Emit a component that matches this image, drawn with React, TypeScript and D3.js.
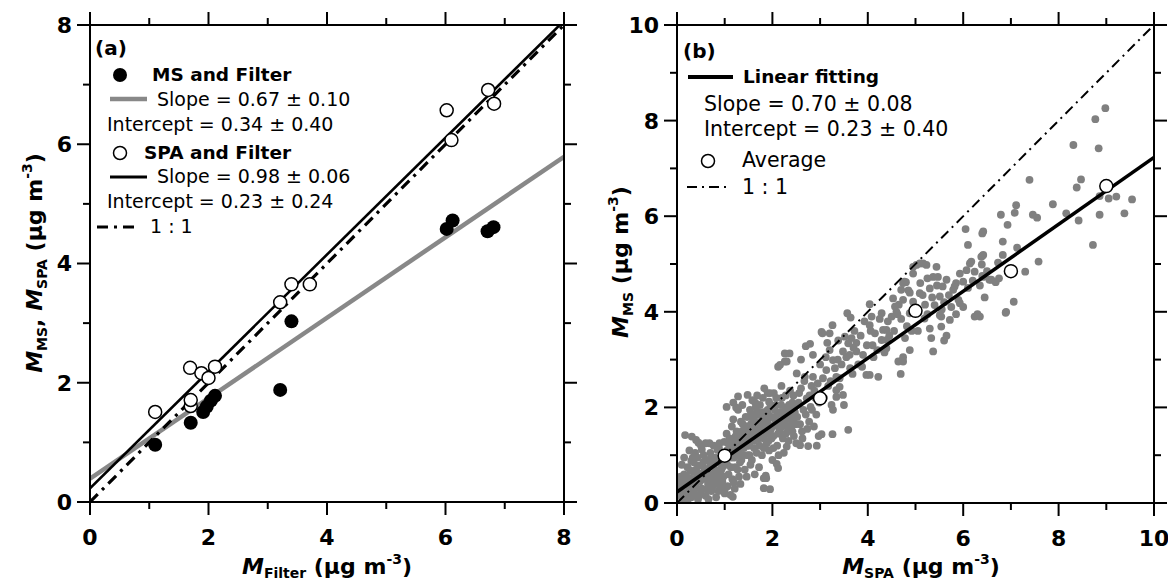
import React from 'react';
import * as d3 from 'd3';

// ---------- Panel (a) data ----------
const msFilter: [number, number][] = [
  [1.10, 0.96], [1.70, 1.33], [1.91, 1.51], [1.97, 1.60], [2.04, 1.70], [2.11, 1.78],
  [3.21, 1.88], [3.40, 3.03], [6.02, 4.58], [6.12, 4.72], [6.71, 4.54], [6.81, 4.61],
];
const spaFilter: [number, number][] = [
  [1.10, 1.51], [1.69, 2.25], [1.70, 1.61], [1.70, 1.71], [1.88, 2.16], [2.00, 2.08],
  [2.11, 2.27], [3.21, 3.35], [3.40, 3.65], [3.71, 3.65], [6.02, 6.57], [6.10, 6.07],
  [6.72, 6.91], [6.82, 6.68],
];
const fitMS = { slope: 0.675, intercept: 0.39 };
const fitSPA = { slope: 0.98, intercept: 0.23 };
const legendA = [
  'MS and Filter', 'Slope = 0.67 \u00b1 0.10', 'Intercept = 0.34 \u00b1 0.40',
  'SPA and Filter', 'Slope = 0.98 \u00b1 0.06', 'Intercept = 0.23 \u00b1 0.24', '1 : 1',
];

// ---------- Panel (b) data ----------
const averages: [number, number][] = [[1, 0.99], [3, 2.19], [5, 4.02], [7, 4.85], [9, 6.63]];
const fitB = { slope: 0.70, intercept: 0.23 };
const legendB = ['Linear fitting', 'Slope = 0.70 \u00b1 0.08', 'Intercept = 0.23 \u00b1 0.40', 'Average', '1 : 1'];
const scatter: [number, number][] = [
  // x 0 - 0.5
  [0.05, 0.15], [0.08, 0.32], [0.10, 0.45], [0.12, 0.22], [0.15, 0.60], [0.18, 0.10], [0.20, 0.38], [0.22, 0.75],
  [0.25, 0.28], [0.27, 0.52], [0.30, 0.12], [0.30, 0.88], [0.32, 0.42], [0.35, 0.65], [0.36, 0.20], [0.40, 0.33],
  [0.42, 0.55], [0.44, 0.08], [0.45, 0.78], [0.48, 0.45], [0.50, 0.25], [0.50, 0.62], [0.07, 0.55], [0.13, 0.05],
  [0.17, 0.48], [0.24, 0.15], [0.28, 0.68], [0.33, 0.95], [0.38, 0.50], [0.46, 0.15], [0.17, 1.42], [0.31, 1.39],
  [0.45, 1.26], [0.26, 1.10], [0.10, 0.80], [0.38, 1.05], [0.15, 0.95], [0.40, 1.32], [0.50, 1.21], [0.30, 0.30],
  [0.20, 0.55], [0.40, 0.70], [0.50, 0.50], [0.03, 0.40], [0.22, 0.05], [0.35, 0.85], [0.43, 0.95], [0.26, 0.40],
  // x 0.5 - 1.0
  [0.52, 0.30], [0.55, 0.50], [0.58, 0.72], [0.60, 0.15], [0.62, 0.90], [0.65, 0.40], [0.68, 0.60], [0.70, 1.05],
  [0.72, 0.25], [0.75, 0.80], [0.78, 0.48], [0.80, 0.95], [0.82, 0.12], [0.85, 0.65], [0.88, 1.15], [0.90, 0.35],
  [0.92, 0.82], [0.95, 1.00], [0.97, 0.55], [1.00, 0.20], [0.56, 1.00], [0.63, 0.28], [0.73, 0.58], [0.83, 0.40],
  [0.93, 0.70], [0.68, 1.25], [0.89, 1.25], [0.85, 1.11], [0.60, 0.55], [0.77, 1.20], [0.99, 1.28], [0.66, 0.08],
  [0.87, 0.25], [0.95, 0.45], [0.52, 1.12], [0.60, 1.25], [0.80, 0.70], [0.90, 0.90], [0.70, 0.80], [0.60, 0.70],
  [0.75, 0.35], [0.85, 0.50], [0.95, 0.75], [0.55, 0.85], [0.65, 0.50], [0.72, 0.95], [0.82, 0.85], [0.78, 0.62],
  [0.92, 0.60], [0.98, 0.90], [0.68, 0.40],
  // x 1.0 - 1.5
  [1.02, 0.85], [1.05, 1.10], [1.08, 0.60], [1.10, 1.35], [1.12, 0.17], [1.14, 0.95], [1.17, 0.13], [1.19, 0.43],
  [1.20, 1.20], [1.22, 0.75], [1.25, 1.50], [1.27, 1.00], [1.30, 0.55], [1.32, 1.30], [1.35, 0.90], [1.38, 1.65],
  [1.40, 1.15], [1.42, 0.70], [1.45, 1.40], [1.48, 1.00], [1.50, 1.80], [1.04, 1.45], [1.15, 1.60], [1.28, 1.95],
  [1.37, 2.05], [1.24, 2.00], [1.33, 0.40], [1.46, 0.55], [1.06, 0.35], [1.21, 0.30], [1.10, 0.97], [1.18, 1.75],
  [1.30, 1.10], [1.43, 1.25], [1.36, 1.50], [1.49, 1.55], [1.01, 0.31], [1.16, 0.50], [1.04, 2.01], [1.28, 2.23],
  [1.48, 2.26], [1.00, 1.00], [1.05, 0.80], [1.10, 1.15], [1.15, 1.25], [1.20, 0.95], [1.25, 1.30], [1.30, 1.40],
  [1.35, 1.20], [1.40, 1.50], [1.45, 1.60], [1.12, 1.05], [1.22, 1.15], [1.32, 0.85], [1.42, 1.35], [1.18, 2.10],
  [1.07, 1.25], [1.23, 1.40], [1.34, 1.70], [1.44, 1.80], [1.27, 0.70], [1.39, 1.00], [1.47, 1.20], [1.13, 0.75],
  // x 1.5 - 2.0
  [1.52, 1.20], [1.55, 1.50], [1.57, 0.90], [1.60, 1.75], [1.62, 1.30], [1.65, 2.00], [1.67, 1.05], [1.70, 1.60],
  [1.72, 0.75], [1.75, 1.85], [1.77, 1.40], [1.80, 2.20], [1.82, 1.15], [1.85, 1.70], [1.87, 0.52], [1.90, 1.95],
  [1.92, 1.30], [1.95, 2.30], [1.97, 1.55], [2.00, 0.90], [1.53, 1.95], [1.58, 2.15], [1.63, 0.60], [1.68, 2.25],
  [1.73, 1.20], [1.78, 1.00], [1.83, 2.40], [1.88, 1.45], [1.93, 1.10], [1.98, 1.80], [1.82, 0.31], [1.95, 0.29],
  [1.86, 0.57], [1.54, 0.80], [1.61, 1.55], [1.66, 1.85], [1.71, 1.35], [1.76, 1.65], [1.81, 1.90], [1.91, 1.65],
  [1.96, 2.05], [1.93, 2.12], [1.90, 2.30], [1.50, 1.35], [1.55, 1.65], [1.60, 1.45], [1.65, 1.70], [1.70, 1.90],
  [1.75, 1.50], [1.80, 1.60], [1.85, 1.85], [1.90, 1.75], [1.95, 1.45], [1.52, 1.00], [1.62, 1.15], [1.72, 1.50],
  [1.82, 1.35], [1.92, 1.85], [1.82, 0.52], [1.58, 1.85], [1.68, 1.45], [1.78, 1.80], [1.88, 1.25], [1.98, 1.35],
  [1.64, 2.10], [1.74, 2.05],
  // x 2.0 - 2.5
  [2.02, 1.40], [2.05, 1.75], [2.07, 2.05], [2.10, 1.20], [2.12, 0.73], [2.15, 1.55], [2.17, 1.90], [2.20, 2.20],
  [2.22, 1.35], [2.25, 1.70], [2.27, 2.00], [2.30, 1.18], [2.32, 1.50], [2.35, 1.85], [2.37, 2.35], [2.40, 1.60],
  [2.42, 2.10], [2.45, 1.40], [2.47, 1.90], [2.50, 1.25], [2.03, 2.30], [2.09, 0.82], [2.13, 1.00], [2.19, 2.45],
  [2.24, 1.05], [2.28, 2.25], [2.34, 1.30], [2.39, 1.95], [2.44, 2.25], [2.49, 1.65], [2.26, 2.96], [2.16, 2.89],
  [2.30, 2.96], [2.26, 3.13], [2.36, 3.13], [2.12, 2.85], [2.06, 1.62], [2.18, 1.45], [2.38, 1.75], [2.46, 2.00],
  [2.00, 1.60], [2.05, 1.95], [2.10, 1.85], [2.15, 1.70], [2.20, 1.60], [2.25, 1.90], [2.30, 1.75], [2.35, 2.05],
  [2.40, 1.85], [2.45, 1.75], [2.50, 2.05], [2.02, 1.15], [2.12, 1.45], [2.22, 1.85], [2.32, 1.60], [2.08, 2.20],
  [2.18, 2.05], [2.28, 1.45], [2.42, 1.50],
  // x 2.5 - 3.0
  [2.51, 2.71], [2.52, 1.80], [2.55, 2.10], [2.58, 1.21], [2.60, 2.40], [2.62, 1.50], [2.65, 1.95], [2.68, 2.64],
  [2.70, 3.28], [2.72, 2.19], [2.75, 1.19], [2.77, 1.70], [2.79, 3.33], [2.80, 2.01], [2.82, 2.45], [2.85, 2.64],
  [2.87, 1.60], [2.90, 2.20], [2.92, 1.85], [2.95, 2.50], [2.97, 1.40], [3.00, 2.90], [2.56, 2.30], [2.63, 1.35],
  [2.67, 2.55], [2.73, 1.55], [2.83, 1.95], [2.88, 2.35], [2.93, 1.20], [2.98, 2.10], [2.60, 3.00], [2.85, 3.10],
  [2.58, 1.65], [2.70, 1.85], [2.78, 2.25],
  // x 3.0 - 3.5
  [3.03, 1.44], [3.05, 3.55], [3.03, 3.58], [3.06, 2.61], [3.08, 2.20], [3.12, 3.05], [3.13, 2.78], [3.17, 2.45],
  [3.20, 3.20], [3.20, 3.55], [3.24, 2.05], [3.26, 1.44], [3.26, 3.72], [3.27, 2.99], [3.27, 1.95], [3.31, 2.82],
  [3.34, 2.36], [3.34, 2.64], [3.34, 2.22], [3.38, 3.40], [3.41, 2.61], [3.41, 2.43], [3.45, 2.90], [3.48, 3.17],
  [3.48, 2.26], [3.50, 2.05], [3.15, 3.35], [3.22, 2.55], [3.37, 3.00],
  // x 3.5 - 4.0
  [3.52, 3.48], [3.57, 3.97], [3.59, 1.53], [3.59, 3.34], [3.62, 3.10], [3.63, 2.82], [3.64, 3.88], [3.68, 2.70],
  [3.72, 3.60], [3.76, 3.35], [3.76, 3.17], [3.80, 2.90], [3.85, 3.50], [3.90, 3.10], [3.93, 3.80], [3.97, 2.68],
  [3.98, 3.30], [3.55, 3.05], [3.70, 3.25], [3.88, 2.85], [3.66, 3.45],
  // x 4.0 - 4.5
  [4.04, 4.16], [4.04, 3.72], [4.04, 2.68], [4.08, 3.90], [4.06, 3.60], [4.10, 3.30], [4.15, 3.55], [4.22, 2.64],
  [4.25, 3.85], [4.29, 3.97], [4.29, 3.41], [4.32, 3.62], [4.35, 3.15], [4.39, 3.62], [4.40, 3.41], [4.39, 3.24],
  [4.42, 3.80], [4.45, 3.50], [4.50, 3.90], [4.20, 3.20], [4.12, 3.05],
  // x 4.5 - 5.0
  [4.53, 4.28], [4.57, 4.11], [4.60, 4.00], [4.62, 3.95], [4.64, 2.96], [4.69, 2.70], [4.74, 2.96], [4.74, 4.25],
  [4.74, 4.60], [4.74, 3.05], [4.80, 4.62], [4.82, 3.70], [4.85, 4.45], [4.88, 3.20], [4.88, 3.97], [4.88, 4.40],
  [4.95, 4.21], [4.95, 4.80], [4.95, 4.94], [4.55, 3.60], [4.70, 3.85], [4.78, 3.45], [4.92, 3.60], [4.65, 4.15],
  [4.98, 4.05], [4.70, 4.46], [4.77, 4.63],
  // x 5.0 - 6.0
  [5.02, 4.98], [5.09, 5.01], [5.09, 4.39], [5.16, 5.01], [5.23, 4.98], [5.19, 3.86], [5.30, 4.49], [5.30, 3.65],
  [5.33, 3.45], [5.37, 3.17], [5.40, 4.14], [5.44, 4.94], [5.47, 4.73], [5.51, 4.32], [5.51, 3.93], [5.54, 3.69],
  [5.60, 3.40], [5.65, 4.67], [5.72, 3.83], [5.79, 4.46], [5.85, 4.60], [5.93, 4.80], [5.10, 4.60], [5.25, 4.70],
  [5.35, 4.30], [5.45, 4.55], [5.60, 4.20], [5.70, 4.35], [5.20, 4.15], [5.55, 4.05], [5.75, 4.10], [5.90, 4.25],
  [5.05, 3.60], [5.65, 3.50], [5.85, 3.95], [5.25, 3.95], [5.15, 4.35], [5.54, 3.90], [5.93, 4.18], [5.37, 4.73],
  [5.57, 4.53], [5.82, 4.53], [6.00, 4.63],
  // x 6.0 - 7.0
  [6.07, 4.87], [6.24, 4.84], [6.24, 3.90], [6.30, 3.95], [6.10, 4.50], [6.20, 4.65], [6.35, 4.55], [6.45, 4.30],
  [6.00, 4.10], [6.40, 4.75], [6.59, 4.67], [6.68, 4.62], [6.75, 4.70], [6.50, 4.85], [6.90, 4.00], [6.14, 5.01],
  [6.38, 5.15], [6.42, 4.73], [6.55, 4.67], [6.35, 3.90], [6.17, 5.05], [6.42, 5.68], [6.83, 5.47], [6.42, 5.19],
  [6.83, 5.19],
  // x > 6 upper / sparse
  [8.98, 8.26], [8.77, 8.03], [8.31, 7.49], [8.84, 7.42], [7.39, 6.76], [8.47, 6.77], [8.38, 6.60], [9.05, 6.37],
  [9.21, 6.41], [9.54, 6.35], [8.86, 6.42], [7.88, 6.25], [7.11, 6.23], [7.08, 6.07], [6.79, 6.03], [7.46, 6.03],
  [7.55, 5.97], [8.16, 6.06], [8.42, 5.91], [8.86, 6.03], [9.38, 6.06], [6.93, 5.82], [6.05, 5.73], [6.40, 5.64],
  [6.10, 5.40], [7.13, 5.34], [8.72, 5.40], [6.40, 5.17], [7.58, 5.05], [7.30, 4.84], [6.73, 5.03], [7.06, 4.21],
  [6.89, 3.98], [6.39, 4.99],
];

// ---------- layout ----------
const xA = d3.scaleLinear().domain([0, 8]).range([90, 564]);
const yA = d3.scaleLinear().domain([0, 8]).range([502, 25]);
const xB = d3.scaleLinear().domain([0, 10]).range([677, 1154]);
const yB = d3.scaleLinear().domain([0, 10]).range([503, 25]);
const ticksA = d3.range(0, 9);
const ticksB = d3.range(0, 11);

const FONT = "'DejaVu Sans', sans-serif";
const MAJ = 13;
const MIN = 7;

function Frame({ xs, ys, ticks }: { xs: d3.ScaleLinear<number, number>; ys: d3.ScaleLinear<number, number>; ticks: number[] }) {
  const [x0, x1] = xs.range();
  const [y0, y1] = ys.range();
  const els: React.ReactNode[] = [];
  ticks.forEach((t) => {
    const len = t % 2 === 0 ? MAJ : MIN;
    const px = xs(t);
    const py = ys(t);
    els.push(<line key={'b' + t} x1={px} x2={px} y1={y0} y2={y0 + len} />);
    els.push(<line key={'t' + t} x1={px} x2={px} y1={y1} y2={y1 - len} />);
    els.push(<line key={'l' + t} x1={x0} x2={x0 - len} y1={py} y2={py} />);
    els.push(<line key={'r' + t} x1={x1} x2={x1 + len} y1={py} y2={py} />);
  });
  return (
    <g>
      <g stroke="#000" strokeWidth={2}>
        {els}
        <rect x={x0} y={y1} width={x1 - x0} height={y0 - y1} fill="none" />
      </g>
      <g fontFamily={FONT} fontWeight="bold" fontSize={22} fill="#000">
        {ticks.filter((t) => t % 2 === 0).map((t) => (
          <text key={'xl' + t} x={xs(t)} y={y0 + 43} textAnchor="middle">{String(t)}</text>
        ))}
        {ticks.filter((t) => t % 2 === 0).map((t) => (
          <text key={'yl' + t} x={x0 - 18} y={ys(t)} dy="0.36em" textAnchor="end">{String(t)}</text>
        ))}
      </g>
    </g>
  );
}

function line(xs: any, ys: any, fit: { slope: number; intercept: number }, xmax: number) {
  return d3.line<number>().x((d) => xs(d)).y((d) => ys(fit.slope * d + fit.intercept))([0, xmax]) as string;
}

export default function App() {
  return (
    <svg width={1168} height={584} style={{ position: 'absolute', left: 0, top: 0, background: '#fff' }}>
      <defs>
        <clipPath id="clipA"><rect x={90} y={25} width={474} height={477} /></clipPath>
        <clipPath id="clipB"><rect x={677} y={25} width={477} height={478} /></clipPath>
      </defs>
      <rect x={0} y={0} width={1168} height={584} fill="#fff" />

      {/* ---------- Panel (a) ---------- */}
      <g clipPath="url(#clipA)">
        <path d={line(xA, yA, fitMS, 8)} stroke="#888" strokeWidth={4.5} fill="none" />
        <path d={line(xA, yA, { slope: 1, intercept: 0 }, 8)} stroke="#000" strokeWidth={3.2} fill="none" strokeDasharray="11 6 3 6" />
        <path d={line(xA, yA, fitSPA, 8)} stroke="#000" strokeWidth={2.6} fill="none" />
      </g>
      {msFilter.map(([x, y], i) => (
        <circle key={'ms' + i} cx={xA(x)} cy={yA(y)} r={7} fill="#000" />
      ))}
      {spaFilter.map(([x, y], i) => (
        <circle key={'spa' + i} cx={xA(x)} cy={yA(y)} r={6.5} fill="#fff" stroke="#000" strokeWidth={1.5} />
      ))}
      <Frame xs={xA} ys={yA} ticks={ticksA} />

      <g fontFamily={FONT} fill="#000">
        <text x={95} y={55} fontSize={20} fontWeight="bold">(a)</text>
        <circle cx={120} cy={75} r={7} fill="#000" />
        <text x={152} y={80.5} fontSize={18.5} fontWeight="bold">{legendA[0]}</text>
        <line x1={110} x2={147} y1={99} y2={99} stroke="#888" strokeWidth={4.5} />
        <text x={157} y={106} fontSize={19}>{legendA[1]}</text>
        <text x={107} y={130.5} fontSize={19}>{legendA[2]}</text>
        <circle cx={120} cy={153} r={6.5} fill="#fff" stroke="#000" strokeWidth={1.5} />
        <text x={144} y={159} fontSize={18.5} fontWeight="bold">{legendA[3]}</text>
        <line x1={110} x2={147} y1={177} y2={177} stroke="#000" strokeWidth={3} />
        <text x={157} y={183} fontSize={19}>{legendA[4]}</text>
        <text x={107} y={207.5} fontSize={19}>{legendA[5]}</text>
        <line x1={97} x2={137} y1={227} y2={227} stroke="#000" strokeWidth={3.2} strokeDasharray="11 6 3 6" />
        <text x={150} y={233} fontSize={19}>{legendA[6]}</text>
      </g>

      {/* axis titles (a) */}
      <text x={327} y={574} textAnchor="middle" fontFamily={FONT} fontWeight="bold" fontSize={22}>
        <tspan fontStyle="italic">M</tspan>
        <tspan fontSize={14} dy={4}>Filter</tspan>
        <tspan dy={-4}> (μg m</tspan>
        <tspan fontSize={14} dy={-10}>-3</tspan>
        <tspan dy={10}>)</tspan>
      </text>
      <text transform="translate(42,263) rotate(-90)" textAnchor="middle" fontFamily={FONT} fontWeight="bold" fontSize={22}>
        <tspan fontStyle="italic">M</tspan>
        <tspan fontSize={14} dy={5}>MS</tspan>
        <tspan dy={-5}>, </tspan>
        <tspan fontStyle="italic">M</tspan>
        <tspan fontSize={14} dy={5}>SPA</tspan>
        <tspan dy={-5}> (μg m</tspan>
        <tspan fontSize={14} dy={-10}>-3</tspan>
        <tspan dy={10}>)</tspan>
      </text>

      {/* ---------- Panel (b) ---------- */}
      <g clipPath="url(#clipB)">
        {scatter.map(([x, y], i) => (
          <circle key={'s' + i} cx={xB(x)} cy={yB(y)} r={3.9} fill="#808080" />
        ))}
        <path d={line(xB, yB, { slope: 1, intercept: 0 }, 10)} stroke="#000" strokeWidth={2} fill="none" strokeDasharray="10 5 2 5" />
        <path d={line(xB, yB, fitB, 10)} stroke="#000" strokeWidth={3.5} fill="none" />
      </g>
      {averages.map(([x, y], i) => (
        <circle key={'av' + i} cx={xB(x)} cy={yB(y)} r={6.5} fill="#fff" stroke="#000" strokeWidth={1.5} />
      ))}
      <Frame xs={xB} ys={yB} ticks={ticksB} />

      <g fontFamily={FONT} fill="#000">
        <text x={683} y={58} fontSize={20} fontWeight="bold">(b)</text>
        <line x1={688} x2={733} y1={77} y2={77} stroke="#000" strokeWidth={4} />
        <text x={743} y={83} fontSize={18.5} fontWeight="bold">{legendB[0]}</text>
        <text x={704} y={111} fontSize={20.5}>{legendB[1]}</text>
        <text x={704} y={136} fontSize={20.5}>{legendB[2]}</text>
        <circle cx={708} cy={161} r={6.5} fill="#fff" stroke="#000" strokeWidth={1.5} />
        <text x={742} y={167} fontSize={20.5}>{legendB[3]}</text>
        <line x1={687} x2={727} y1={187} y2={187} stroke="#000" strokeWidth={2} strokeDasharray="10 5 2 5" />
        <text x={742} y={194} fontSize={20.5}>{legendB[4]}</text>
      </g>

      <text x={921} y={574} textAnchor="middle" fontFamily={FONT} fontWeight="bold" fontSize={22}>
        <tspan fontStyle="italic">M</tspan>
        <tspan fontSize={14} dy={4}>SPA</tspan>
        <tspan dy={-4}> (μg m</tspan>
        <tspan fontSize={14} dy={-10}>-3</tspan>
        <tspan dy={10}>)</tspan>
      </text>
      <text transform="translate(628,262) rotate(-90)" textAnchor="middle" fontFamily={FONT} fontWeight="bold" fontSize={22}>
        <tspan fontStyle="italic">M</tspan>
        <tspan fontSize={14} dy={5}>MS</tspan>
        <tspan dy={-5}> (μg m</tspan>
        <tspan fontSize={14} dy={-10}>-3</tspan>
        <tspan dy={10}>)</tspan>
      </text>
    </svg>
  );
}
